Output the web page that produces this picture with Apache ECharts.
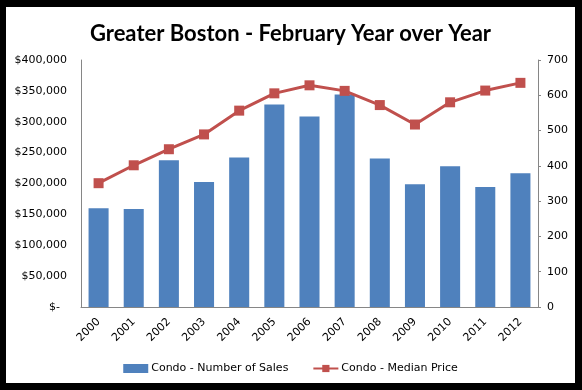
<!DOCTYPE html>
<html>
<head>
<meta charset="utf-8">
<script src="https://cdn.jsdelivr.net/npm/echarts@6/dist/echarts.min.js"></script>
<style>
  html, body { margin: 0; padding: 0; background: #000; width: 582px; height: 390px; overflow: hidden; }
  #chart { position: absolute; left: 6px; top: 7px; width: 569px; height: 376px; background: #fff; }
</style>
</head>
<body>
<div id="chart"></div>
<script>
var years = ['2000','2001','2002','2003','2004','2005','2006','2007','2008','2009','2010','2011','2012'];
var salesCount = [280, 278, 416, 354, 424, 574, 540, 602, 421, 348, 399, 340, 379];
var medianPrice = [200500, 229500, 255500, 279500, 318000, 346000, 359000, 350000, 327000, 295500, 331500, 350500, 363000];
var priceTicks = [0, 50000, 100000, 150000, 200000, 250000, 300000, 350000, 400000];
var salesTicks = [0, 100, 200, 300, 400, 500, 600, 700];

var font = 'DejaVu Sans';
var chart = echarts.init(document.getElementById('chart'));
function money(v) {
  if (v === 0) return '$-  ';
  return '$' + String(v).replace(/\B(?=(\d{3})+(?!\d))/g, ',');
}
chart.setOption({
  animation: false,
  backgroundColor: '#fff',
  title: {
    text: 'Greater Boston - February Year over Year',
    left: 'center',
    top: 11,
    textStyle: { fontFamily: 'Lato', fontWeight: 'bold', fontSize: 22, color: '#000' }
  },
  legend: {
    top: 351,
    left: 'center',
    itemWidth: 25,
    itemHeight: 9,
    itemGap: 24,
    textStyle: { fontFamily: font, fontSize: 11, color: '#000', padding: [0, 0, 0, -2] },
    data: [
      { name: 'Condo - Number of Sales', icon: 'rect' },
      { name: 'Condo - Median Price' }
    ]
  },
  grid: { left: 75, right: 37, top: 53, bottom: 76 },
  xAxis: {
    type: 'category',
    data: years,
    axisLine: { lineStyle: { color: '#868686', width: 1 } },
    axisTick: { show: false },
    axisLabel: { rotate: 45, fontFamily: font, fontSize: 11, color: '#000', margin: 13, interval: 0 }
  },
  yAxis: [
    {
      type: 'value',
      min: priceTicks[0],
      max: priceTicks[priceTicks.length - 1],
      interval: priceTicks[1] - priceTicks[0],
      position: 'left',
      splitLine: { show: false },
      axisLine: { show: true, lineStyle: { color: '#868686' } },
      axisTick: { show: false },
      axisLabel: { fontFamily: font, fontSize: 11, color: '#000', margin: 14, formatter: money }
    },
    {
      type: 'value',
      min: salesTicks[0],
      max: salesTicks[salesTicks.length - 1],
      interval: salesTicks[1] - salesTicks[0],
      position: 'right',
      splitLine: { show: false },
      axisLine: { show: true, lineStyle: { color: '#868686' } },
      axisTick: { show: true, length: 3, lineStyle: { color: '#868686' } },
      axisLabel: { fontFamily: font, fontSize: 11, color: '#000', margin: 9 }
    }
  ],
  series: [
    {
      name: 'Condo - Number of Sales',
      type: 'bar',
      yAxisIndex: 1,
      data: salesCount,
      barCategoryGap: '43%',
      itemStyle: { color: '#4F81BD' }
    },
    {
      name: 'Condo - Median Price',
      type: 'line',
      yAxisIndex: 0,
      data: medianPrice,
      symbol: 'rect',
      symbolSize: 10,
      lineStyle: { color: '#C0504D', width: 3 },
      itemStyle: { color: '#C0504D' }
    }
  ]
});
</script>
</body>
</html>
